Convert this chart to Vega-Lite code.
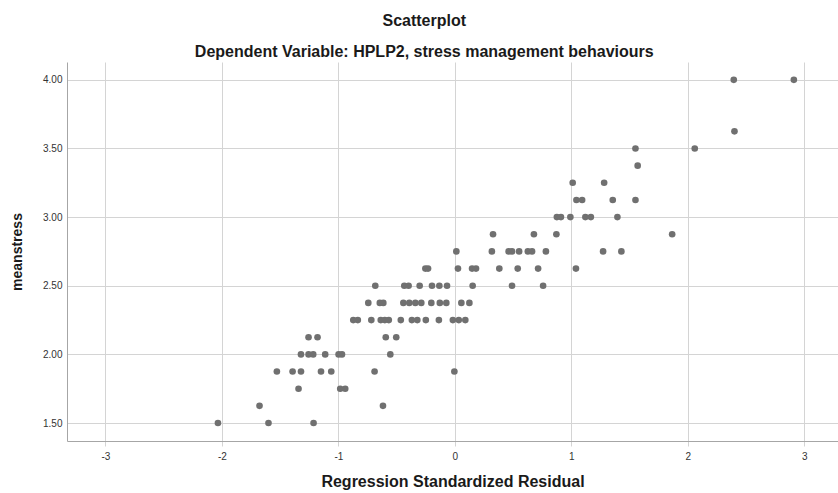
{
  "$schema": "https://vega.github.io/schema/vega-lite/v6.json",
  "width": 771,
  "height": 379,
  "autosize": {"type": "none"},
  "padding": {"left": 67, "top": 62, "right": 0, "bottom": 52},
  "background": "white",
  "title": {
    "text": "Scatterplot",
    "subtitle": "Dependent Variable: HPLP2, stress management behaviours",
    "anchor": "middle",
    "frame": "bounds",
    "font": "Liberation Sans",
    "fontSize": 16,
    "fontWeight": "bold",
    "color": "#1a1a1a",
    "subtitleFont": "Liberation Sans",
    "subtitleFontSize": 16,
    "subtitleFontWeight": "bold",
    "subtitleColor": "#1a1a1a",
    "subtitlePadding": 15,
    "offset": 2
  },
  "config": {
    "view": {"stroke": null},
    "axis": {
      "labelFont": "Liberation Sans",
      "labelFontSize": 10,
      "labelColor": "#333333",
      "titleFont": "Liberation Sans",
      "titleFontSize": 14,
      "titleFontWeight": "bold",
      "titleColor": "#1a1a1a",
      "gridColor": "#d4d4d4",
      "gridWidth": 1,
      "domainColor": "#a6a6a6",
      "domainWidth": 1
    }
  },
  "data": {
    "values": [
      {"resid": 2.395, "meanstress": 4.0},
      {"resid": 2.911, "meanstress": 4.0},
      {"resid": 2.401, "meanstress": 3.625},
      {"resid": 1.551, "meanstress": 3.5},
      {"resid": 2.06, "meanstress": 3.5},
      {"resid": 1.57, "meanstress": 3.375},
      {"resid": 1.012, "meanstress": 3.25},
      {"resid": 1.282, "meanstress": 3.25},
      {"resid": 1.044, "meanstress": 3.125},
      {"resid": 1.093, "meanstress": 3.125},
      {"resid": 1.356, "meanstress": 3.125},
      {"resid": 1.551, "meanstress": 3.125},
      {"resid": 0.876, "meanstress": 3.0},
      {"resid": 0.911, "meanstress": 3.0},
      {"resid": 0.992, "meanstress": 3.0},
      {"resid": 1.121, "meanstress": 3.0},
      {"resid": 1.168, "meanstress": 3.0},
      {"resid": 1.396, "meanstress": 3.0},
      {"resid": 0.328, "meanstress": 2.875},
      {"resid": 0.679, "meanstress": 2.875},
      {"resid": 0.872, "meanstress": 2.875},
      {"resid": 1.866, "meanstress": 2.875},
      {"resid": 0.013, "meanstress": 2.75},
      {"resid": 0.318, "meanstress": 2.75},
      {"resid": 0.462, "meanstress": 2.75},
      {"resid": 0.491, "meanstress": 2.75},
      {"resid": 0.552, "meanstress": 2.75},
      {"resid": 0.627, "meanstress": 2.75},
      {"resid": 0.663, "meanstress": 2.75},
      {"resid": 0.782, "meanstress": 2.75},
      {"resid": 1.273, "meanstress": 2.75},
      {"resid": 1.43, "meanstress": 2.75},
      {"resid": -0.253, "meanstress": 2.625},
      {"resid": -0.23, "meanstress": 2.625},
      {"resid": 0.027, "meanstress": 2.625},
      {"resid": 0.148, "meanstress": 2.625},
      {"resid": 0.182, "meanstress": 2.625},
      {"resid": 0.382, "meanstress": 2.625},
      {"resid": 0.54, "meanstress": 2.625},
      {"resid": 0.715, "meanstress": 2.625},
      {"resid": 1.04, "meanstress": 2.625},
      {"resid": -0.683, "meanstress": 2.5},
      {"resid": -0.434, "meanstress": 2.5},
      {"resid": -0.397, "meanstress": 2.5},
      {"resid": -0.302, "meanstress": 2.5},
      {"resid": -0.196, "meanstress": 2.5},
      {"resid": -0.133, "meanstress": 2.5},
      {"resid": -0.067, "meanstress": 2.5},
      {"resid": 0.153, "meanstress": 2.5},
      {"resid": 0.491, "meanstress": 2.5},
      {"resid": 0.758, "meanstress": 2.5},
      {"resid": -0.743, "meanstress": 2.375},
      {"resid": -0.644, "meanstress": 2.375},
      {"resid": -0.614, "meanstress": 2.375},
      {"resid": -0.442, "meanstress": 2.375},
      {"resid": -0.391, "meanstress": 2.375},
      {"resid": -0.339, "meanstress": 2.375},
      {"resid": -0.288, "meanstress": 2.375},
      {"resid": -0.202, "meanstress": 2.375},
      {"resid": -0.129, "meanstress": 2.375},
      {"resid": -0.073, "meanstress": 2.375},
      {"resid": 0.056, "meanstress": 2.375},
      {"resid": 0.125, "meanstress": 2.375},
      {"resid": -0.872, "meanstress": 2.25},
      {"resid": -0.833, "meanstress": 2.25},
      {"resid": -0.717, "meanstress": 2.25},
      {"resid": -0.636, "meanstress": 2.25},
      {"resid": -0.601, "meanstress": 2.25},
      {"resid": -0.567, "meanstress": 2.25},
      {"resid": -0.464, "meanstress": 2.25},
      {"resid": -0.369, "meanstress": 2.25},
      {"resid": -0.322, "meanstress": 2.25},
      {"resid": -0.249, "meanstress": 2.25},
      {"resid": -0.137, "meanstress": 2.25},
      {"resid": -0.017, "meanstress": 2.25},
      {"resid": 0.034, "meanstress": 2.25},
      {"resid": 0.09, "meanstress": 2.25},
      {"resid": -1.256, "meanstress": 2.125},
      {"resid": -1.179, "meanstress": 2.125},
      {"resid": -0.593, "meanstress": 2.125},
      {"resid": -0.503, "meanstress": 2.125},
      {"resid": -1.321, "meanstress": 2.0},
      {"resid": -1.256, "meanstress": 2.0},
      {"resid": -1.216, "meanstress": 2.0},
      {"resid": -1.113, "meanstress": 2.0},
      {"resid": -0.998, "meanstress": 2.0},
      {"resid": -0.969, "meanstress": 2.0},
      {"resid": -0.554, "meanstress": 2.0},
      {"resid": -1.528, "meanstress": 1.875},
      {"resid": -1.393, "meanstress": 1.875},
      {"resid": -1.321, "meanstress": 1.875},
      {"resid": -1.149, "meanstress": 1.875},
      {"resid": -1.061, "meanstress": 1.875},
      {"resid": -0.689, "meanstress": 1.875},
      {"resid": -0.004, "meanstress": 1.875},
      {"resid": -1.342, "meanstress": 1.75},
      {"resid": -0.984, "meanstress": 1.75},
      {"resid": -0.941, "meanstress": 1.75},
      {"resid": -1.677, "meanstress": 1.625},
      {"resid": -0.617, "meanstress": 1.625},
      {"resid": -2.034, "meanstress": 1.5},
      {"resid": -1.6, "meanstress": 1.5},
      {"resid": -1.213, "meanstress": 1.5}
    ]
  },
  "mark": {"type": "point", "filled": true, "shape": "circle", "size": 44, "color": "#707070", "opacity": 1},
  "encoding": {
    "x": {
      "field": "resid",
      "type": "quantitative",
      "scale": {"domain": [-3.33, 3.29], "nice": false, "zero": false},
      "axis": {
        "title": "Regression Standardized Residual",
        "titleFontSize": 16,
        "values": [-3, -2, -1, 0, 1, 2, 3],
        "labelExpr": "'' + datum.value",
        "tickSize": 5,
        "tickColor": "#d4d4d4",
        "labelPadding": 5,
        "titlePadding": 12
      }
    },
    "y": {
      "field": "meanstress",
      "type": "quantitative",
      "scale": {"domain": [1.369, 4.13], "nice": false, "zero": false},
      "axis": {
        "title": "meanstress",
        "values": [1.5, 2, 2.5, 3, 3.5, 4],
        "format": ".2f",
        "ticks": false,
        "labelPadding": 5,
        "titlePadding": 18
      }
    }
  }
}
